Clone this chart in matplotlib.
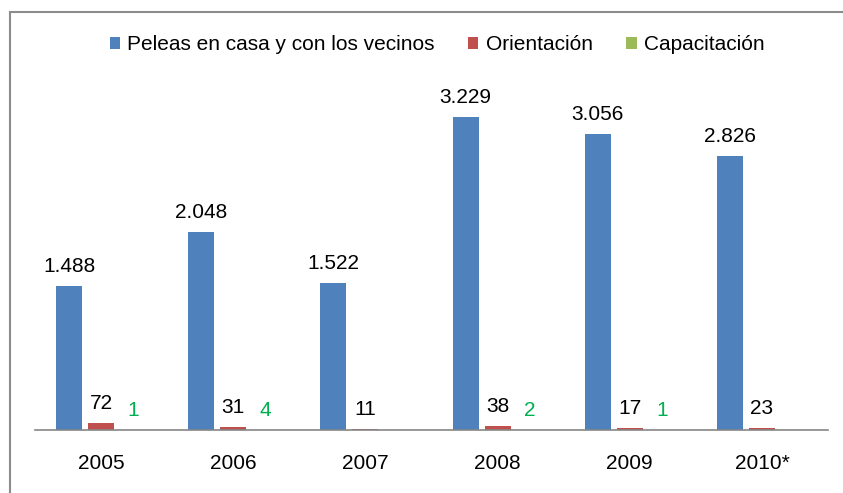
import matplotlib
matplotlib.use("Agg")
import matplotlib.pyplot as plt
from matplotlib.patches import Rectangle
import numpy as np

plt.rcParams['font.family'] = ['Liberation Sans', 'DejaVu Sans']

years = ["2005", "2006", "2007", "2008", "2009", "2010*"]
peleas = [1488, 2048, 1522, 3229, 3056, 2826]
orientacion = [72, 31, 11, 38, 17, 23]
capacitacion = [1, 4, 0, 2, 1, 0]

names = ["Peleas en casa y con los vecinos", "Orientación", "Capacitación"]
colors = ["#4F81BD", "#C0504D", "#9BBB59"]
label_colors = ["black", "black", "#00B050"]

W, H = 843, 493
fig = plt.figure(figsize=(W / 100, H / 100), dpi=100)
ax = fig.add_axes([35 / W, 63 / H, 793 / W, 387.6 / H])

x = np.arange(len(years))
step = 0.242
width = 0.197
series = [peleas, orientacion, capacitacion]

for i, vals in enumerate(series):
    pos = x + (i - 1) * step
    bars = ax.bar(pos, vals, width, color=colors[i], label=names[i])
    for b, v in zip(bars, vals):
        if v == 0:
            continue
        txt = f"{v:,}".replace(",", ".")
        ax.annotate(txt, (b.get_x() + b.get_width() / 2, v),
                    xytext=(0, 10), textcoords="offset points",
                    ha="center", va="baseline", fontsize=15,
                    color=label_colors[i])

ax.set_xlim(-0.5, 5.5)
ax.set_ylim(0, 4000)
ax.set_xticks(x)
ax.set_xticklabels(years, fontsize=15)
ax.tick_params(axis="x", length=0, pad=17)
ax.set_yticks([])
for s in ["left", "right", "top"]:
    ax.spines[s].set_visible(False)
ax.spines["bottom"].set_color("#868686")
ax.spines["bottom"].set_linewidth(1.2)

fig.legend(loc="center", bbox_to_anchor=(437 / W, 1 - 45 / H), ncol=3,
           frameon=False, fontsize=15, handlelength=0.5, handleheight=0.5,
           handletextpad=0.35, columnspacing=1.6)

# outer chart border (cut off at right and bottom)
fig.patches.append(Rectangle((10 / W, -0.1), 1.2, 1.1 - 12 / H,
                             transform=fig.transFigure, fill=False,
                             edgecolor="#8C8C8C", linewidth=1.5))

fig.savefig("out.png", dpi=100)
